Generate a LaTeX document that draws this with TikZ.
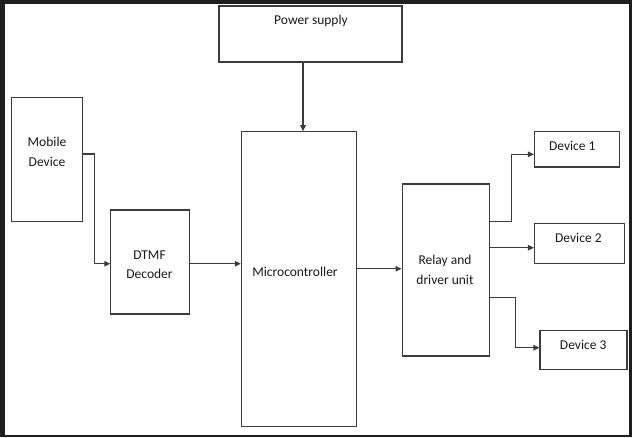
\documentclass[tikz,border=0pt]{standalone}
\usepackage{fontspec}
\setmainfont{Carlito}
\usetikzlibrary{arrows.meta}
\definecolor{frame}{HTML}{1E1E1E}
\definecolor{ln}{HTML}{3C3C3C}
\definecolor{txt}{HTML}{1A1A1A}
\begin{document}
\begin{tikzpicture}[x=1pt,y=-1pt,
  box/.style={draw=ln,line width=1.1pt,fill=white,inner sep=0pt,rectangle},
  lbl/.style={text=txt,font=\fontsize{13.5}{19.5}\selectfont,align=center,inner sep=0pt},
  arr/.style={draw=ln,line width=1.1pt,-{Triangle[length=6pt,width=5.5pt]}}]
\useasboundingbox (0,0) rectangle (632,437);
\fill[frame] (0,0) rectangle (632,437);
\fill[white] (5,4) rectangle (629,435);
% boxes
\node[box,minimum width=183pt,minimum height=56pt] (power) at (310.5,34) {};
\node[box,minimum width=71.3pt,minimum height=124pt] (mob) at (47,159.7) {};
\node[box,minimum width=79pt,minimum height=104pt] (dtmf) at (150.3,262) {};
\node[box,minimum width=115.3pt,minimum height=294.3pt] (micro) at (299,278.9) {};
\node[box,minimum width=87.7pt,minimum height=172pt] (relay) at (445.9,270) {};
\node[box,minimum width=85pt,minimum height=35.3pt] (d1) at (577,149.3) {};
\node[box,minimum width=89.8pt,minimum height=40pt] (d2) at (579.4,243.7) {};
\node[box,minimum width=87pt,minimum height=39pt] (d3) at (583.5,350.2) {};
% labels
\node[lbl] (tpower) at (311,21) {Power supply};
\node[lbl] (tmob) at (47,152) {Mobile\\Device};
\node[lbl] (tdtmf) at (149.5,264.5) {DTMF\\Decoder};
\node[lbl] (tmicro) at (295,272) {Microcontroller};
\node[lbl] (trelay) at (445,270) {Relay and\\driver unit};
\node[lbl] (td1) at (572.3,145.5) {Device 1};
\node[lbl] (td2) at (578.4,237.5) {Device 2};
\node[lbl] (td3) at (583.2,344.5) {Device 3};
% connectors
\draw[arr] ([xshift=4pt]micro.north |- power.south) -- ([xshift=4pt]micro.north);
\draw[arr] ([yshift=5.7pt]mob.east) -- ++(11.7,0) |- ([yshift=-1.7pt]dtmf.west);
\draw[arr] ([yshift=-1.7pt]dtmf.east) -- ([yshift=-1.7pt]dtmf.east -| micro.west);
\draw[arr] ([yshift=1.3pt]relay.west -| micro.east) -- ([yshift=1.3pt]relay.west);
\draw[arr] ([yshift=48.3pt]relay.east) -- ++(21,0) |- ([yshift=-5pt]d1.west);
\draw[arr] ([yshift=-4pt]d2.west -| relay.east) -- ([yshift=-4pt]d2.west);
\draw[arr] ([yshift=-27.3pt]relay.east) -- ++(25.3,0) |- ([yshift=2.5pt]d3.west);
\end{tikzpicture}
\end{document}
